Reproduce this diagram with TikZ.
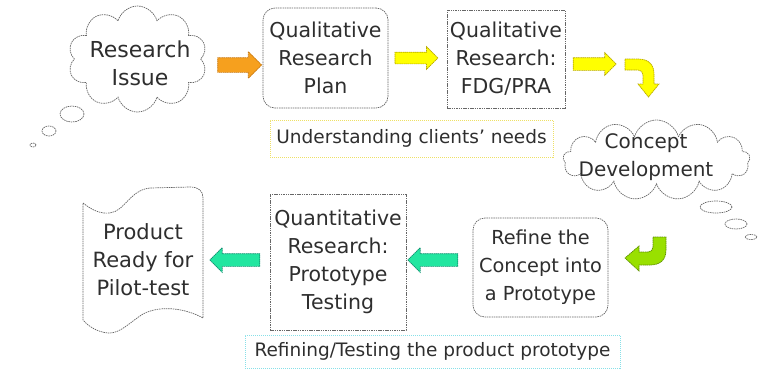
\documentclass[tikz,border=0pt]{standalone}
\usepackage{fontspec}
\setmainfont{DejaVu Sans}
\usetikzlibrary{shapes.symbols,shapes.arrows}
\definecolor{orFill}{HTML}{F6A01E}
\definecolor{orLine}{HTML}{C87810}
\definecolor{yeFill}{HTML}{FFFF00}
\definecolor{yeLine}{HTML}{B8A800}
\definecolor{liFill}{HTML}{99E000}
\definecolor{liLine}{HTML}{5E8E00}
\definecolor{teFill}{HTML}{22E6A0}
\definecolor{teLine}{HTML}{109070}
\definecolor{udLine}{HTML}{EEE066}
\definecolor{rfLine}{HTML}{88E0E8}
\begin{document}
\begin{tikzpicture}[x=1pt,y=-1pt,
  every node/.style={font=\fontsize{18.5}{27}\selectfont, text=black!82},
  fs/.style={font=\fontsize{#1}{28}\selectfont},
  bord/.style={draw=black!60, line width=0.7pt, dash pattern=on 1.5pt off 0.8pt},
  rbox/.style={bord, rounded corners=12pt, align=center, inner sep=1pt},
  sbox/.style={bord, align=center, inner sep=1pt},
  cloudshape/.style={bord, cloud, cloud puffs=#1, cloud ignores aspect, inner sep=0pt},
  txt/.style={align=center, inner sep=0pt},
  barrow/.style={single arrow, inner xsep=0pt, line width=0.7pt, dash pattern=on 1.5pt off 0.6pt},
]
\useasboundingbox (0,0) rectangle (764,370);

% Research issue cloud
\node[cloudshape=10, minimum width=139pt, minimum height=106pt] (ri) at (137.5,59) {};
\node[txt, fs=22] (ritext) at (140,63) {Research\\Issue};
\draw[bord] (72,114) ellipse [x radius=12pt, y radius=8pt];
\draw[bord] (49,131) ellipse [x radius=7pt, y radius=5pt];
\draw[bord] (33,145) ellipse [x radius=3pt, y radius=2pt];

% top row boxes
\node[rbox, fs=20.5, minimum width=125pt, minimum height=100pt] (qrp) at (325.5,58) {Qualitative\\Research\\Plan};
\node[sbox, fs=20.5, minimum width=118pt, minimum height=98pt] (fdg) at (506,59) {Qualitative\\Research:\\FDG/PRA};

% top arrows
\node[barrow, fill=orFill, draw=orLine, inner ysep=7pt, single arrow head extend=6pt, minimum height=44pt] (a1) at (236,65) {};
\node[barrow, fill=yeFill, draw=yeLine, inner ysep=5.5pt, single arrow head extend=5.5pt, minimum height=43pt] (a2) at (413.5,58) {};
\node[barrow, fill=yeFill, draw=yeLine, inner ysep=6pt, single arrow head extend=5pt, minimum height=43pt] (a3) at (591.5,64) {};

% curved yellow arrow
\draw[fill=yeFill, draw=yeLine, line width=0.7pt, dash pattern=on 1.5pt off 0.6pt]
  (625,59) -- (638,59) .. controls (649,59) and (654,65) .. (654,74) -- (654,84) -- (659,84)
  -- (648.5,97) -- (638,84) -- (643,84) -- (643,75) .. controls (643,72) and (641,70) .. (638,70)
  -- (625,70) -- cycle;

% understanding box
\node[draw=udLine, line width=0.8pt, dash pattern=on 1pt off 1pt, minimum width=283pt, minimum height=37pt, inner sep=0pt] (ud) at (411.5,138.5) {Understanding clients’ needs};

% concept development cloud
\node[cloudshape=13, minimum width=187pt, minimum height=80pt] (cd) at (656.5,160) {};
\node[txt, fs=20] (cdtext) at (646,157) {Concept\\Development};
\draw[bord] (716,207) ellipse [x radius=16pt, y radius=6pt];
\draw[bord] (736,224) ellipse [x radius=11pt, y radius=5pt];
\draw[bord] (751,237) ellipse [x radius=6pt, y radius=2.5pt];

% curved lime arrow
\draw[fill=liFill, draw=liLine, line width=0.7pt, dash pattern=on 1.5pt off 0.6pt]
  (653,237) -- (666,237) -- (666,250) .. controls (666,260) and (660,265) .. (650,265)
  -- (639,265) -- (639,271) -- (625,258) -- (639,246) -- (639,252) -- (648,252)
  .. controls (651,252) and (653,250) .. (653,247) -- cycle;

% bottom row boxes
\node[rbox, fs=19.3, minimum width=135pt, minimum height=99pt] (rc) at (540.5,267.5) {Refine the\\Concept into\\a Prototype};
\node[sbox, fs=20.5, minimum width=136pt, minimum height=136pt] (qt) at (338,262) {Quantitative\\Research:\\Prototype\\Testing};

% bottom arrows
\node[barrow, fill=teFill, draw=teLine, inner ysep=6pt, single arrow head extend=6pt, minimum height=50pt, shape border rotate=180] (a4) at (436,260) {};
\node[barrow, fill=teFill, draw=teLine, inner ysep=6pt, single arrow head extend=6pt, minimum height=50pt, shape border rotate=180] (a5) at (238,260) {};

% product ready shape
\draw[bord] (83,203) .. controls (92,210) and (100,214) .. (110,213)
  .. controls (125,211) and (130,190) .. (150,188) -- (190,187)
  .. controls (199,187) and (203,191) .. (203,198) -- (203,318)
  .. controls (185,308) and (160,305) .. (143,314)
  .. controls (130,322) and (120,334) .. (108,333)
  .. controls (97,332) and (88,326) .. (83,320) -- cycle;
\node[txt, fs=21] (pr) at (143,260) {Product\\Ready for\\Pilot-test};

% refining box
\node[draw=rfLine, line width=0.8pt, dash pattern=on 1pt off 1pt, minimum width=375pt, minimum height=33pt, inner sep=0pt] (rf) at (432.5,351.5) {Refining/Testing the product prototype};
\end{tikzpicture}
\end{document}
